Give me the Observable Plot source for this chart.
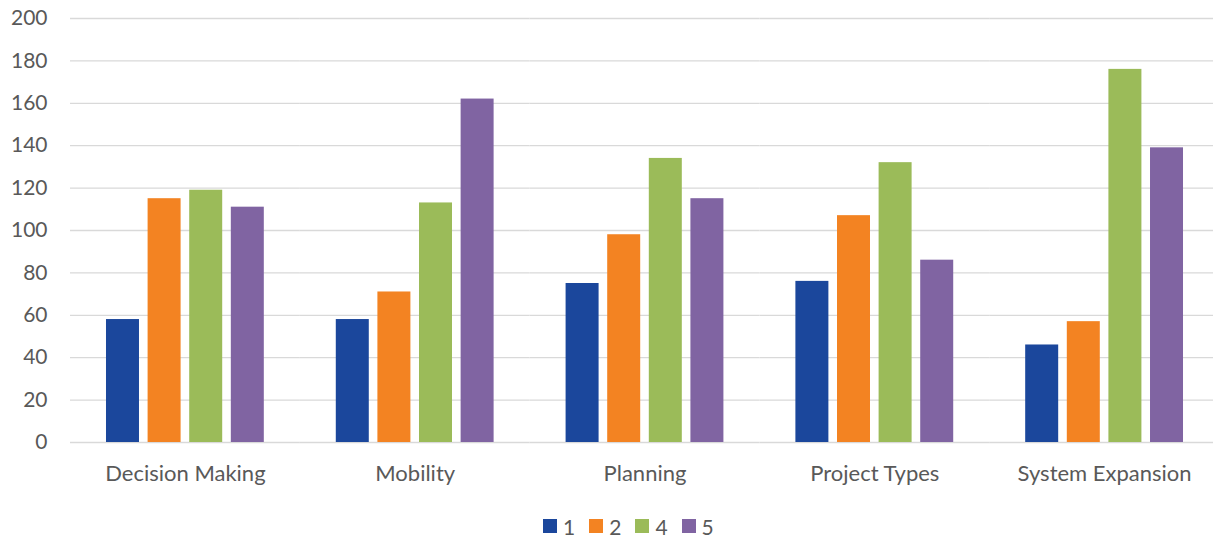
<!DOCTYPE html>
<html>
<head>
<meta charset="utf-8">
<script src="https://cdn.jsdelivr.net/npm/d3@7"></script>
<script src="https://cdn.jsdelivr.net/npm/@observablehq/plot@0.6"></script>
<style>
  html, body { margin: 0; padding: 0; background: #fff; }
  #chart { width: 1213px; }
  #legend { display: flex; align-items: center; height: 22px; padding-top: 15px; padding-left: 543px; font-family: Lato, "Open Sans", sans-serif; font-size: 21px; color: #595959; }
  #legend .item { display: flex; align-items: center; margin-right: 14px; }
  #legend .sw { width: 14px; height: 14px; margin-right: 6px; }
</style>
</head>
<body>
<div id="chart"></div>
<div id="legend"></div>
<script>
const categories = ["Decision Making", "Mobility", "Planning", "Project Types", "System Expansion"];
const seriesKeys = ["1", "2", "4", "5"];
const series1 = [58, 58, 75, 76, 46];
const series2 = [115, 71, 98, 107, 57];
const series4 = [119, 113, 134, 132, 176];
const series5 = [111, 162, 115, 86, 139];
const seriesColors = ["#1b479c", "#f38322", "#9bbb59", "#8064a2"];
const yTicks = [0, 20, 40, 60, 80, 100, 120, 140, 160, 180, 200];

const valuesBySeries = [series1, series2, series4, series5];
const data = [];
categories.forEach((c, i) => {
  seriesKeys.forEach((s, j) => {
    data.push({category: c, series: s, value: valuesBySeries[j][i]});
  });
});

const chart = Plot.plot({
  width: 1213,
  height: 500,
  marginTop: 18,
  marginBottom: 58,
  marginLeft: 70,
  marginRight: -6,
  style: {fontFamily: "Lato, 'Open Sans', sans-serif", fontSize: "21px", color: "#595959", background: "#fff"},
  fx: {domain: categories, padding: 0, round: false, label: null},
  x: {domain: seriesKeys, paddingInner: 0.207, paddingOuter: 0.865, round: false, axis: null},
  y: {domain: [0, 200], label: null},
  color: {domain: seriesKeys, range: seriesColors},
  marks: [
    Plot.ruleY(yTicks, {stroke: "#d9d9d9", strokeWidth: 1.3}),
    Plot.barY(data, {fx: "category", x: "series", y: "value", fill: "series"}),
    Plot.axisY(yTicks, {tickSize: 0, tickPadding: 23, label: null, fontSize: 21}),
    Plot.axisFx({anchor: "bottom", tickSize: 0, tickPadding: 23, label: null, fontSize: 22})
  ]
});
document.getElementById("chart").appendChild(chart);

const legend = document.getElementById("legend");
seriesKeys.forEach((s, i) => {
  const item = document.createElement("div");
  item.className = "item";
  const sw = document.createElement("span");
  sw.className = "sw";
  sw.style.background = seriesColors[i];
  const t = document.createElement("span");
  t.textContent = s;
  item.appendChild(sw);
  item.appendChild(t);
  legend.appendChild(item);
});
</script>
</body>
</html>
